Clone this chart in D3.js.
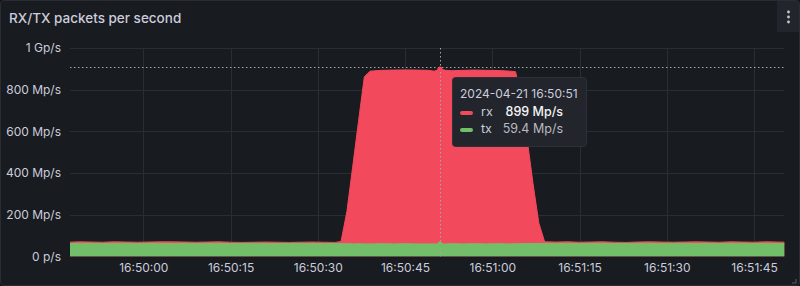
<!DOCTYPE html>
<html>
<head>
<meta charset="utf-8">
<script src="https://cdn.jsdelivr.net/npm/d3@7/dist/d3.min.js"></script>
<style>
  html, body { margin: 0; padding: 0; background: #111217; }
  svg { display: block; font-family: Inter, "Noto Sans", sans-serif; }
</style>
</head>
<body>
<svg id="chart" width="800" height="286"></svg>
<script>
// ---- data ----
const day = "2024-04-21";
const times = [
  "16:49:47","16:49:49","16:49:51","16:49:53","16:49:55","16:49:57","16:49:59",
  "16:50:01","16:50:03","16:50:05","16:50:07","16:50:09","16:50:11","16:50:13","16:50:15",
  "16:50:17","16:50:19","16:50:21","16:50:23","16:50:25","16:50:27","16:50:29","16:50:31","16:50:33",
  "16:50:34","16:50:35","16:50:36","16:50:37","16:50:38","16:50:39",
  "16:50:41","16:50:43","16:50:45","16:50:47","16:50:49",
  "16:50:50","16:50:51","16:50:52","16:50:53",
  "16:50:55","16:50:57","16:50:59","16:51:01","16:51:03",
  "16:51:04","16:51:05","16:51:06","16:51:07","16:51:08","16:51:09",
  "16:51:11","16:51:13","16:51:15","16:51:17","16:51:19","16:51:21","16:51:23","16:51:25",
  "16:51:27","16:51:29","16:51:31","16:51:33","16:51:35","16:51:37","16:51:39","16:51:41",
  "16:51:43","16:51:45","16:51:47","16:51:49","16:51:51"
];
const rx = [
  68,70,69,68,70,69,68,
  69,70,70,69,68,69,70,68,
  67,68,69,68,67,68,69,68,67,
  72,215,430,648,862,889,
  893,894,895,894,893,
  889,899,893,891,
  893,894,893,892,889,
  886,760,560,350,160,70,
  69,70,68,69,70,68,67,69,
  70,69,68,69,70,69,68,70,
  69,68,70,69,68
];
const tx = [
  62,63,63,62,63,63,62,
  63,63,62,63,62,63,63,62,
  62,63,62,62,62,63,62,62,62,
  61,61,60,61,60,60,
  61,60,61,60,60,
  60,59.4,60,61,
  60,61,60,61,60,
  61,61,62,62,62,63,
  62,63,62,63,63,62,62,63,
  63,62,63,63,62,63,62,63,
  63,62,63,62,62
];
const yTicks = [0, 200, 400, 600, 800, 1000];
const yTickLabels = ["0 p/s","200 Mp/s","400 Mp/s","600 Mp/s","800 Mp/s","1 Gp/s"];
const xTicks = ["16:50:00","16:50:15","16:50:30","16:50:45","16:51:00","16:51:15","16:51:30","16:51:45"];
const xDomain = ["16:49:47.4","16:51:50.2"];
const hoverTime = "16:50:51";
const hoverCursorValue = 909;
const seriesNames = ["rx","tx"];
const seriesColors = ["#f2495c","#73bf69"];
const hoverLabels = ["899 Mp/s","59.4 Mp/s"];
const title = "RX/TX packets per second";

// ---- setup ----
const parse = s => new Date(day + "T" + s);
const W = 800, H = 286;
const plot = { left: 70, right: 784.3, top: 48, bottom: 256.4 };
const svg = d3.select("#chart");

const x = d3.scaleTime().domain(xDomain.map(parse)).range([plot.left, plot.right]);
const y = d3.scaleLinear().domain([0, 1000]).range([plot.bottom, plot.top]);

// panel
svg.append("rect").attr("x",0.5).attr("y",0.5).attr("width",W-1).attr("height",H-1)
  .attr("rx",3).attr("fill","#181b1f").attr("stroke","#2a2d33");

svg.append("text").attr("x",9).attr("y",23).text(title)
  .attr("fill","#ccccdc").attr("font-size",13.5).attr("font-weight",500);

// menu button
svg.append("rect").attr("x",777).attr("y",1).attr("width",22).attr("height",31)
  .attr("fill","#22252b");
[12,17,22].forEach(cy => svg.append("circle").attr("cx",788.5).attr("cy",cy).attr("r",1.4).attr("fill","#c7c9d1"));

// grid
const grid = svg.append("g").attr("stroke","#2a2d32").attr("stroke-width",1);
grid.selectAll("line.h").data(yTicks).join("line")
  .attr("x1",plot.left).attr("x2",plot.right)
  .attr("y1",d=>Math.round(y(d))+0.5).attr("y2",d=>Math.round(y(d))+0.5);
grid.selectAll("line.v").data(xTicks).join("line")
  .attr("y1",plot.top).attr("y2",plot.bottom)
  .attr("x1",d=>Math.round(x(parse(d)))+0.5).attr("x2",d=>Math.round(x(parse(d)))+0.5);

// axes labels
const yAxis = d3.axisLeft(y).tickValues(yTicks).tickFormat((d,i)=>yTickLabels[i]).tickSize(0).tickPadding(9);
const gy = svg.append("g").attr("transform",`translate(${plot.left},0)`).call(yAxis);
gy.select(".domain").remove();
gy.selectAll("text").attr("fill","#ccccdc").attr("font-size",12).attr("font-family","Inter, sans-serif");

const xAxis = d3.axisBottom(x).tickValues(xTicks.map(parse)).tickFormat(d3.timeFormat("%H:%M:%S")).tickSize(0).tickPadding(7);
const gx = svg.append("g").attr("transform",`translate(0,${plot.bottom})`).call(xAxis);
gx.select(".domain").remove();
gx.selectAll("text").attr("fill","#ccccdc").attr("font-size",12).attr("font-family","Inter, sans-serif");

// clip
svg.append("clipPath").attr("id","clip").append("rect")
  .attr("x",plot.left).attr("y",plot.top).attr("width",plot.right-plot.left).attr("height",plot.bottom-plot.top);

const series = [rx, tx];
const g = svg.append("g").attr("clip-path","url(#clip)");
series.forEach((vals,si) => {
  const pts = times.map((t,i)=>({t:parse(t), v:vals[i]}));
  const area = d3.area().x(d=>x(d.t)).y0(y(0)).y1(d=>y(d.v)).curve(d3.curveLinear);
  const line = d3.line().x(d=>x(d.t)).y(d=>y(d.v)).curve(d3.curveLinear);
  g.append("path").datum(pts).attr("d",area).attr("fill",seriesColors[si]);
  g.append("path").datum(pts).attr("d",line).attr("fill","none").attr("stroke",seriesColors[si]).attr("stroke-width",1);
});

// crosshair
const hx = x(parse(hoverTime));
const cross = svg.append("g").attr("stroke","#a4a6ad").attr("stroke-width",1).attr("stroke-dasharray","1.5 2.5");
cross.append("line").attr("x1",Math.round(hx)+0.5).attr("x2",Math.round(hx)+0.5).attr("y1",plot.top).attr("y2",plot.bottom);
cross.append("line").attr("x1",plot.left).attr("x2",plot.right)
  .attr("y1",Math.round(y(hoverCursorValue))+0.5).attr("y2",Math.round(y(hoverCursorValue))+0.5);

const hi = times.indexOf(hoverTime);
series.forEach((vals,si)=>{
  svg.append("circle").attr("cx",hx).attr("cy",y(vals[hi])).attr("r",2.5).attr("fill",seriesColors[si]);
});

// tooltip
const tt = svg.append("g").attr("transform",`translate(${Math.round(hx)+12},77)`);
tt.append("rect").attr("x",0.5).attr("y",0.5).attr("width",134).attr("height",69).attr("rx",3)
  .attr("fill","#22252b").attr("stroke","#2d3036");
tt.append("text").attr("x",8).attr("y",21).text(`${day} ${hoverTime}`)
  .attr("fill","#ccccdc").attr("font-size",12);
seriesNames.forEach((n,i)=>{
  const ry = 39 + i*17;
  tt.append("rect").attr("x",8).attr("y",ry-5).attr("width",13).attr("height",4).attr("rx",2).attr("fill",seriesColors[i]);
  tt.append("text").attr("x",29).attr("y",ry).text(n).attr("fill","#ccccdc").attr("font-size",12.5);
  tt.append("text").attr("x",111).attr("y",ry).attr("text-anchor","end").text(hoverLabels[i])
    .attr("fill", i===0 ? "#f4f4f6" : "#b8bac2").attr("font-size",12.5).attr("font-weight", i===0 ? 500 : 400);
});

// resize handle
svg.append("path").attr("d","M796 279 L796 283 L792 283").attr("fill","none").attr("stroke","#5a5d66").attr("stroke-width",1);
</script>
</body>
</html>
